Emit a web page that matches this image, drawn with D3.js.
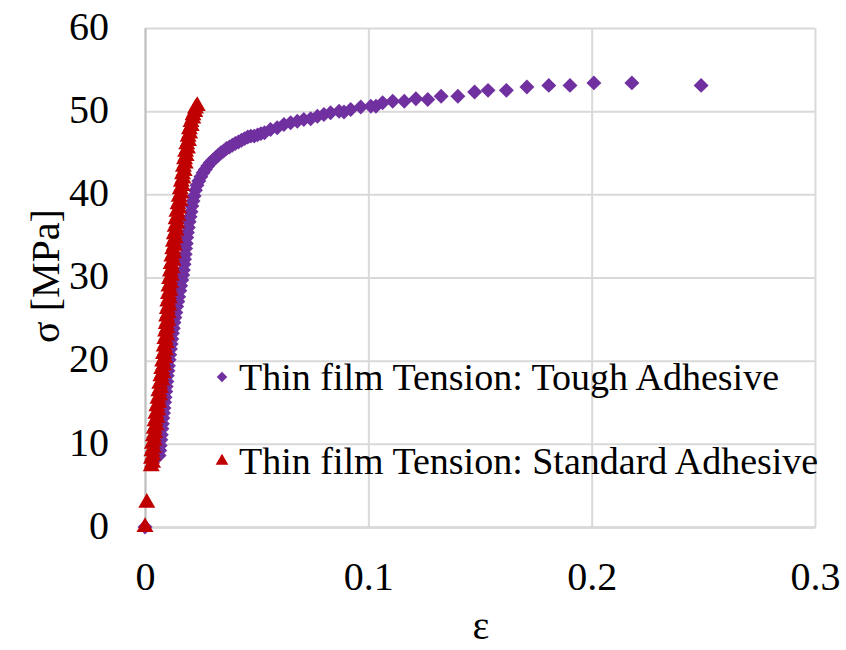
<!DOCTYPE html>
<html>
<head>
<meta charset="utf-8">
<script src="https://cdn.jsdelivr.net/npm/d3@7"></script>
<style>
  body { margin: 0; background: #fff; }
  text { font-family: "Liberation Serif", "Times New Roman", serif; fill: #000; }
</style>
</head>
<body>
<div id="chart"></div>
<script>
// series: strain (eps) and stress (MPa)
var toughStrain = [0,
    0.0063, 0.0066, 0.0068, 0.0071, 0.0073, 0.0076, 0.0078, 0.0080, 0.0083, 0.0085,
    0.0088, 0.0090, 0.0093, 0.0095, 0.0098, 0.0100, 0.0103, 0.0105, 0.0108, 0.0111,
    0.0114, 0.0117, 0.0120, 0.0123, 0.0127, 0.0130, 0.0134, 0.0138, 0.0142, 0.0147,
    0.0151, 0.0156, 0.0160, 0.0165, 0.0169, 0.0172, 0.0175, 0.0177, 0.0180, 0.0182,
    0.0185, 0.0187, 0.0190, 0.0194, 0.0198, 0.0202, 0.0206, 0.0210, 0.0215, 0.0220,
    0.0226, 0.0233, 0.0241, 0.0250, 0.0260, 0.0270, 0.0281, 0.0292, 0.0304, 0.0316,
    0.0328, 0.0340, 0.0352, 0.0365, 0.0378, 0.0391, 0.0404, 0.0418, 0.0432, 0.0446,
    0.0460, 0.0474, 0.0489, 0.0504, 0.0519, 0.0535, 0.0562, 0.0592, 0.0622, 0.0652,
    0.0682, 0.0711, 0.0742, 0.0772, 0.0801, 0.0831, 0.0869, 0.0891, 0.0921, 0.0966,
    0.1011, 0.1034, 0.1064, 0.1109, 0.1161, 0.1213, 0.1266, 0.1326, 0.1401, 0.1476,
    0.1536, 0.1618, 0.1710, 0.1808, 0.1903, 0.2010, 0.2180, 0.2490];
var toughStress = [0,
    8.6, 9.2, 9.8, 10.5, 11.1, 11.8, 12.4, 13.1, 13.7, 14.3,
    15.0, 15.6, 16.3, 16.9, 17.5, 18.2, 18.8, 19.4, 20.1, 20.7,
    21.4, 22.0, 22.6, 23.3, 23.9, 24.6, 25.2, 25.8, 26.5, 27.1,
    27.7, 28.4, 29.0, 29.7, 30.3, 30.9, 31.6, 32.2, 32.8, 33.5,
    34.1, 34.8, 35.4, 36.0, 36.7, 37.3, 37.9, 38.6, 39.2, 39.8,
    40.5, 41.1, 41.6, 42.1, 42.6, 43.0, 43.4, 43.8, 44.1, 44.4,
    44.7, 45.0, 45.2, 45.5, 45.7, 45.9, 46.1, 46.3, 46.5, 46.7,
    46.9, 47.0, 47.0, 47.15, 47.3, 47.4, 47.8, 48.0, 48.4, 48.6,
    48.8, 49.0, 49.1, 49.4, 49.6, 49.8, 50.0, 49.9, 50.2, 50.5,
    50.6, 50.6, 51.0, 51.2, 51.2, 51.5, 51.4, 51.8, 51.8, 52.3,
    52.5, 52.5, 52.9, 53.1, 53.1, 53.4, 53.4, 53.1];

var standardStrain = [0, 0.0008,
    0.0028, 0.0034, 0.0029, 0.0035, 0.0031, 0.0037, 0.0033, 0.0040, 0.0037, 0.0044,
    0.0041, 0.0049, 0.0045, 0.0053, 0.0049, 0.0057, 0.0053, 0.0061, 0.0058, 0.0066,
    0.0062, 0.0070, 0.0066, 0.0075, 0.0071, 0.0079, 0.0075, 0.0083, 0.0079, 0.0088,
    0.0083, 0.0091, 0.0086, 0.0094, 0.0089, 0.0097, 0.0092, 0.0099, 0.0095, 0.0102,
    0.0097, 0.0104, 0.0100, 0.0107, 0.0102, 0.0109, 0.0105, 0.0112, 0.0107, 0.0115,
    0.0110, 0.0118, 0.0114, 0.0121, 0.0117, 0.0125, 0.0120, 0.0128, 0.0124, 0.0131,
    0.0127, 0.0135, 0.0131, 0.0139, 0.0135, 0.0143, 0.0139, 0.0147, 0.0143, 0.0151,
    0.0148, 0.0156, 0.0153, 0.0161, 0.0158, 0.0166, 0.0163, 0.0170, 0.0168, 0.0175,
    0.0172, 0.0180, 0.0177, 0.0184, 0.0182, 0.0190, 0.0187, 0.0195, 0.0193, 0.0200,
    0.0199, 0.0207, 0.0206, 0.0214, 0.0215, 0.0223, 0.0226, 0.0234];
var standardStress = [0, 2.9,
    7.3, 7.7, 8.2, 8.6, 9.1, 9.5, 10.0, 10.4, 10.9, 11.3,
    11.8, 12.2, 12.7, 13.1, 13.6, 14.0, 14.5, 14.9, 15.4, 15.8,
    16.3, 16.7, 17.2, 17.6, 18.1, 18.5, 19.0, 19.4, 19.9, 20.3,
    20.8, 21.2, 21.7, 22.1, 22.6, 23.0, 23.5, 23.9, 24.4, 24.8,
    25.3, 25.7, 26.2, 26.6, 27.1, 27.5, 28.0, 28.4, 28.9, 29.3,
    29.8, 30.2, 30.7, 31.1, 31.6, 32.0, 32.5, 32.9, 33.4, 33.8,
    34.3, 34.7, 35.2, 35.6, 36.1, 36.5, 37.0, 37.4, 37.9, 38.3,
    38.8, 39.2, 39.7, 40.1, 40.6, 41.0, 41.5, 41.9, 42.4, 42.8,
    43.3, 43.7, 44.2, 44.6, 45.1, 45.5, 46.0, 46.4, 46.9, 47.3,
    47.8, 48.2, 48.7, 49.1, 49.5, 49.9, 50.3, 50.6];

var seriesNames = ["Thin film Tension: Tough Adhesive", "Thin film Tension: Standard Adhesive"];
var seriesColors = ["#7030A0", "#C00000"];
var xTicks = [0, 0.1, 0.2, 0.3];
var yTicks = [0, 10, 20, 30, 40, 50, 60];

// layout
var W = 846, H = 650;
var plotLeft = 145, plotRight = 815, plotTop = 28, plotBottom = 527;
var fontSize = 38;
var tickFontSize = 40;

var svg = d3.select("#chart")
    .append("svg")
    .attr("width", W)
    .attr("height", H);

var xScale = d3.scaleLinear().domain([0, 0.3]).range([plotLeft, plotRight]);
var yScale = d3.scaleLinear().domain([0, 60]).range([plotBottom, plotTop]);

// grid + tick labels
var xAxis = d3.axisBottom(xScale)
    .tickValues(xTicks)
    .tickFormat(d3.format("~g"))
    .tickSizeInner(-(plotBottom - plotTop))
    .tickSizeOuter(0)
    .tickPadding(35);

var yAxis = d3.axisLeft(yScale)
    .tickValues(yTicks)
    .tickFormat(d3.format("d"))
    .tickSizeInner(-(plotRight - plotLeft))
    .tickSizeOuter(0)
    .tickPadding(36);

var gx = svg.append("g")
    .attr("class", "x axis")
    .attr("transform", "translate(0," + plotBottom + ")")
    .call(xAxis);

var gy = svg.append("g")
    .attr("class", "y axis")
    .attr("transform", "translate(" + plotLeft + ",0)")
    .call(yAxis);

[gx, gy].forEach(function(g) {
    g.selectAll(".tick line")
        .attr("stroke", "#d9d9d9")
        .attr("stroke-width", 2);
    g.selectAll(".tick text")
        .attr("font-size", tickFontSize)
        .attr("font-family", "Liberation Serif, Times New Roman, serif")
        .attr("fill", "#000");
    g.select(".domain")
        .attr("stroke", "#bfbfbf")
        .attr("stroke-width", 2);
});
gy.selectAll(".tick text").attr("dy", "0.28em");
// put the axis lines above the grid
gx.select(".domain").raise();
gy.select(".domain").raise();

// axis titles
svg.append("text")
    .attr("text-anchor", "middle")
    .attr("font-size", tickFontSize)
    .attr("transform", "translate(45,276)rotate(-90)")
    .attr("dy", "0.35em")
    .text("σ [MPa]");

svg.append("text")
    .attr("text-anchor", "middle")
    .attr("font-size", tickFontSize)
    .attr("x", 481)
    .attr("y", 625)
    .attr("dy", "0.35em")
    .text("ε");

// markers
var diamond = d3.symbol().type(d3.symbolSquare).size(112);
var triangle = d3.symbol().type(d3.symbolTriangle).size(125);

var toughData = toughStrain.map(function(e, i) { return { x: e, y: toughStress[i] }; });
var standardData = standardStrain.map(function(e, i) { return { x: e, y: standardStress[i] }; });

svg.append("g").selectAll("path")
    .data(toughData)
    .enter().append("path")
    .attr("d", diamond)
    .attr("fill", seriesColors[0])
    .attr("transform", function(d) {
        return "translate(" + xScale(d.x) + "," + yScale(d.y) + ")rotate(45)";
    });

svg.append("g").selectAll("path")
    .data(standardData)
    .enter().append("path")
    .attr("d", triangle)
    .attr("fill", seriesColors[1])
    .attr("transform", function(d) {
        return "translate(" + xScale(d.x) + "," + yScale(d.y) + ")";
    });

// legend (inside the plot, no box)
var legendY = [377, 461];
var legendSymbols = [d3.symbol().type(d3.symbolSquare).size(55), d3.symbol().type(d3.symbolTriangle).size(70)];

var legend = svg.append("g").selectAll("g")
    .data(seriesNames)
    .enter().append("g")
    .attr("transform", function(d, i) { return "translate(222," + legendY[i] + ")"; });

legend.append("path")
    .attr("d", function(d, i) { return legendSymbols[i](); })
    .attr("fill", function(d, i) { return seriesColors[i]; })
    .attr("transform", function(d, i) { return i == 0 ? "rotate(45)" : ""; });

legend.append("text")
    .attr("x", 17)
    .attr("dy", "0.33em")
    .attr("font-size", fontSize)
    .text(function(d) { return d; });
</script>
</body>
</html>
